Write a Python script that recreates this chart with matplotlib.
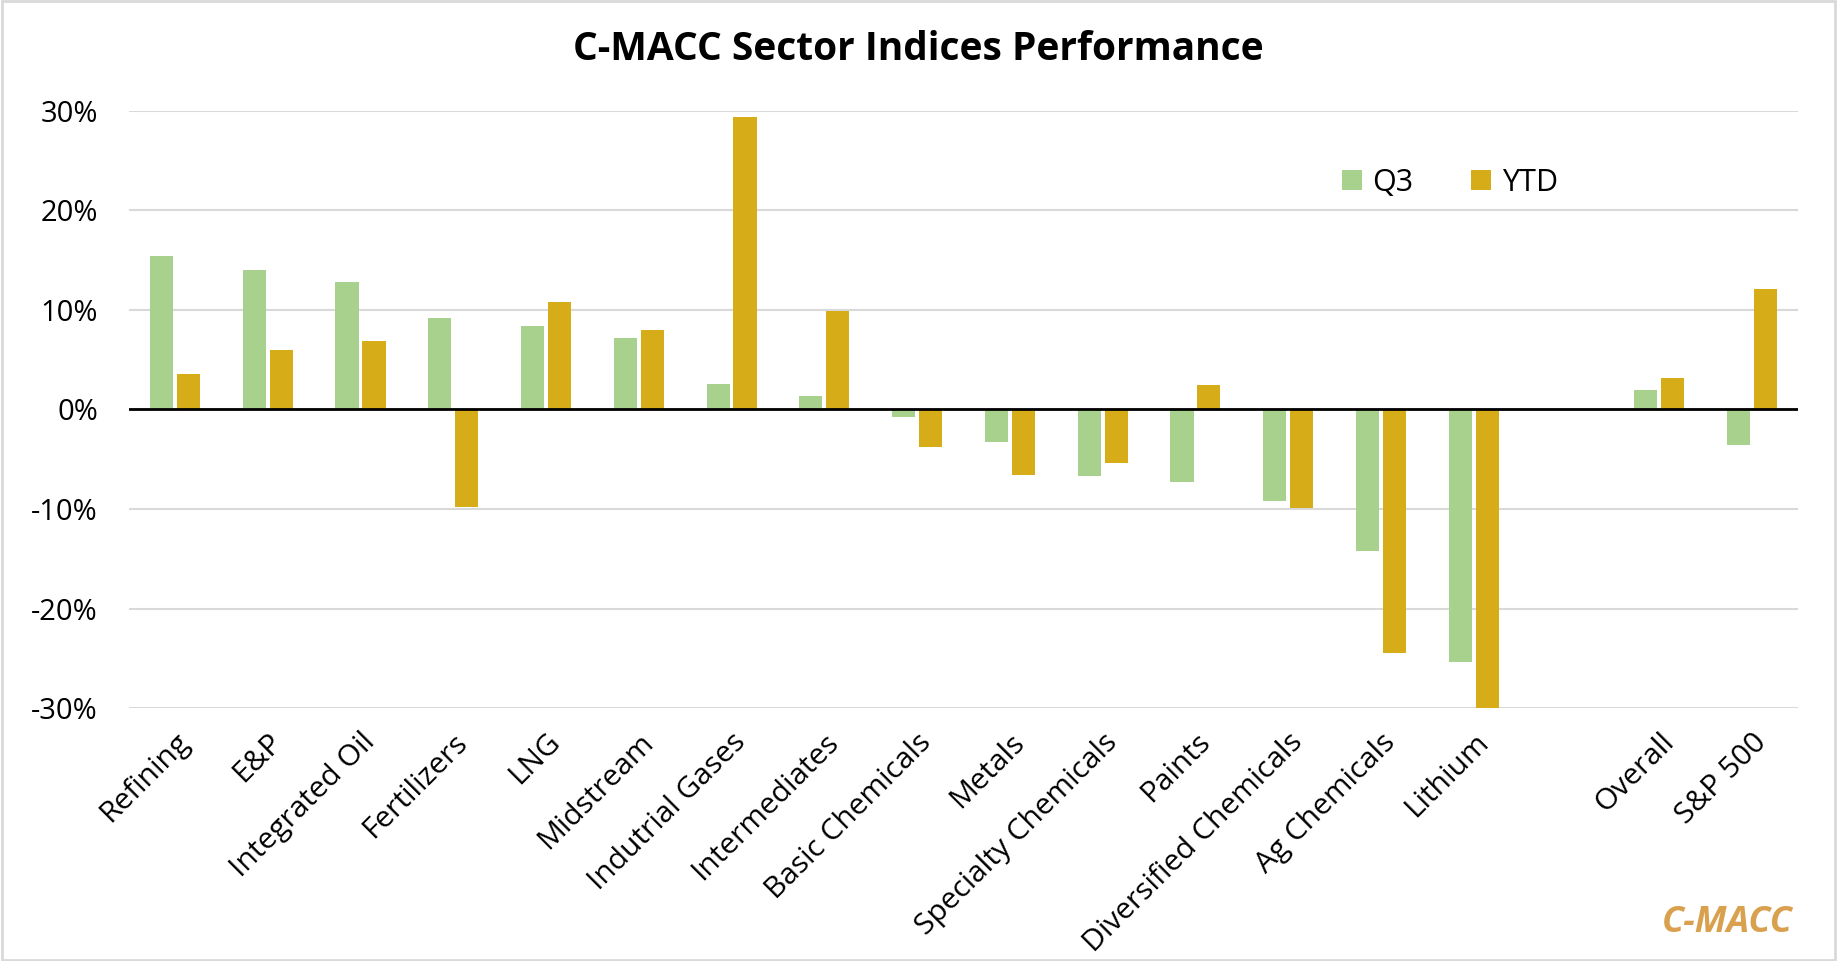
import numpy as np
from matplotlib import pyplot as plt
from matplotlib.patches import Rectangle

categories = ["Refining", "E&P", "Integrated Oil", "Fertilizers", "LNG", "Midstream",
              "Indutrial Gases", "Intermediates", "Basic Chemicals", "Metals",
              "Specialty Chemicals", "Paints", "Diversified Chemicals", "Ag Chemicals",
              "Lithium", "", "Overall", "S&P 500"]
q3 = [15.4, 14.0, 12.8, 9.2, 8.4, 7.2, 2.5, 1.3, -0.8, -3.3, -6.7, -7.3, -9.2, -14.2,
      -25.4, np.nan, 1.9, -3.6]
ytd = [3.6, 6.0, 6.9, -9.8, 10.8, 8.0, 29.3, 9.9, -3.8, -6.6, -5.4, 2.4, -9.9, -24.5,
       -30.0, np.nan, 3.2, 12.1]
yticks = [-30, -20, -10, 0, 10, 20, 30]

plt.rcParams['font.family'] = ['Open Sans', 'DejaVu Sans']

fig = plt.figure(figsize=(18.37, 9.61), dpi=100)
ax = fig.add_axes([0.070, 0.263, 0.909, 0.622])

x = np.arange(len(categories))
w = 0.25
ax.bar(x - 0.145, q3, w, color="#A9D18E", label="Q3", zorder=3)
ax.bar(x + 0.145, ytd, w, color="#D6AD18", label="YTD", zorder=3)

ax.set_xlim(-0.5, len(categories) - 0.5)
ax.set_ylim(-30, 30)
ax.set_yticks(yticks)
ax.set_yticklabels([f"{v}%" for v in yticks], fontsize=21)
ax.set_xticks(x)
ax.set_xticklabels(categories, rotation=45, ha="right", rotation_mode="anchor", fontsize=21.5)
ax.tick_params(length=0, pad=14)
ax.tick_params(axis="y", pad=22)
ax.yaxis.grid(True, color="#D9D9D9", linewidth=1.5, zorder=0)
ax.axhline(0, color="black", linewidth=2, zorder=4)
for s in ax.spines.values():
    s.set_visible(False)

ax.legend(loc="upper left", bbox_to_anchor=(0.71, 0.95), ncol=2, frameon=False,
          fontsize=22, handlelength=0.65, handleheight=0.65, columnspacing=1.9,
          handletextpad=0.35)

fig.text(0.5, 0.949, "C-MACC Sector Indices Performance", ha="center", va="center",
         fontsize=28, fontweight="bold")
fig.text(0.976, 0.04, "C-MACC", ha="right", va="center", fontsize=26,
         fontweight="bold", fontstyle="italic", color="#D9A04E")

fig.patches.append(Rectangle((0.001, 0.001), 0.998, 0.998, transform=fig.transFigure,
                             fill=False, edgecolor="#D9D9D9", linewidth=2))

plt.savefig("out.png", dpi=100)
